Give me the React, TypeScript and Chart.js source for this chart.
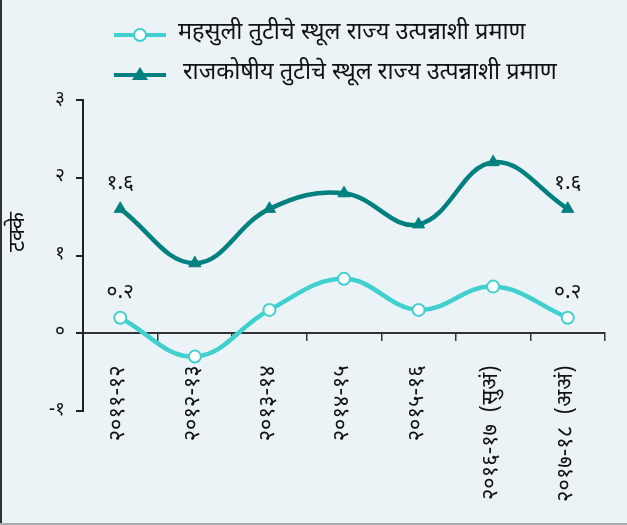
import React, { useEffect, useRef } from 'react';
import { Chart, registerables } from 'chart.js';

Chart.register(...registerables);

const categories = ['२०११-१२', '२०१२-१३', '२०१३-१४', '२०१४-१५', '२०१५-१६', '२०१६-१७  (सुअं)', '२०१७-१८  (अअं)'];
const revenueDeficit = [0.2, -0.3, 0.3, 0.7, 0.3, 0.6, 0.2];
const fiscalDeficit = [1.6, 0.9, 1.6, 1.8, 1.4, 2.2, 1.6];
const revenueLabels = ['०.२', '', '', '', '', '', '०.२'];
const fiscalLabels = ['१.६', '', '', '', '', '', '१.६'];
const yTickValues = [-1, 0, 1, 2, 3];
const yTickLabels = ['-१', '०', '१', '२', '३'];
const seriesNames = ['महसुली तुटीचे स्थूल राज्य उत्पन्नाशी प्रमाण', 'राजकोषीय तुटीचे स्थूल राज्य उत्पन्नाशी प्रमाण'];
const yTitle = 'टक्के';

const LIGHT = '#40D0D0';
const DARK = '#00807E';
const BG = '#EBF3F6';
const TEXT = '#111111';
const FONT = "'Noto Sans Devanagari', 'Lohit Devanagari', 'FreeSans', 'Noto Sans', sans-serif";

const overlayPlugin = {
  id: 'overlay',
  afterDatasetsDraw(chart: any) {
    const ctx = chart.ctx;
    ctx.save();
    ctx.fillStyle = TEXT;
    ctx.font = `21px ${FONT}`;
    ctx.textAlign = 'center';
    ctx.textBaseline = 'middle';
    const lists = [revenueLabels, fiscalLabels];
    chart.data.datasets.forEach((ds: any, di: number) => {
      const meta = chart.getDatasetMeta(di);
      meta.data.forEach((pt: any, i: number) => {
        const t = lists[di][i];
        if (t) ctx.fillText(t, pt.x, pt.y - 24);
      });
    });
    ctx.restore();
  },
  afterDraw(chart: any) {
    const ctx = chart.ctx;
    ctx.save();
    const rows = [
      { y: 35, color: LIGHT, style: 'circle', tx: 178 },
      { y: 75, color: DARK, style: 'triangle', tx: 183 },
    ];
    rows.forEach((r, i) => {
      ctx.strokeStyle = r.color;
      ctx.lineWidth = 4;
      ctx.beginPath();
      ctx.moveTo(114, r.y);
      ctx.lineTo(166, r.y);
      ctx.stroke();
      if (r.style === 'circle') {
        ctx.beginPath();
        ctx.arc(140, r.y, 6, 0, Math.PI * 2);
        ctx.fillStyle = '#ffffff';
        ctx.fill();
        ctx.lineWidth = 2;
        ctx.stroke();
      } else {
        ctx.beginPath();
        ctx.moveTo(140, r.y - 8);
        ctx.lineTo(148, r.y + 5);
        ctx.lineTo(132, r.y + 5);
        ctx.closePath();
        ctx.fillStyle = r.color;
        ctx.fill();
      }
      ctx.fillStyle = TEXT;
      ctx.font = `23.5px ${FONT}`;
      ctx.textAlign = 'left';
      ctx.textBaseline = 'middle';
      ctx.fillText(seriesNames[i], r.tx, r.y);
    });
    ctx.translate(20, 232);
    ctx.rotate(-Math.PI / 2);
    ctx.fillStyle = TEXT;
    ctx.font = `22px ${FONT}`;
    ctx.textAlign = 'center';
    ctx.textBaseline = 'middle';
    ctx.fillText(yTitle, 0, 0);
    ctx.restore();
  },
};

export default function App() {
  const ref = useRef<HTMLCanvasElement | null>(null);
  useEffect(() => {
    document.body.style.margin = '0';
    const canvas = ref.current;
    if (!canvas) return;
    const chart = new Chart(canvas, {
      type: 'line',
      data: {
        labels: categories,
        datasets: [
          {
            label: seriesNames[0],
            data: revenueDeficit,
            borderColor: LIGHT,
            backgroundColor: '#ffffff',
            borderWidth: 4.5,
            tension: 0.4,
            pointStyle: 'circle',
            pointRadius: 6,
            pointBorderWidth: 2,
            pointBorderColor: LIGHT,
            pointBackgroundColor: '#ffffff',
          },
          {
            label: seriesNames[1],
            data: fiscalDeficit,
            borderColor: DARK,
            backgroundColor: DARK,
            borderWidth: 4.5,
            tension: 0.4,
            pointStyle: 'triangle',
            pointRadius: 7,
            pointBorderWidth: 1,
            pointBorderColor: DARK,
            pointBackgroundColor: DARK,
          },
        ],
      },
      options: {
        animation: false,
        responsive: true,
        maintainAspectRatio: false,
        layout: { padding: { top: 100, right: 22, bottom: 114, left: 0 } },
        plugins: { legend: { display: false }, tooltip: { enabled: false } },
        scales: {
          x: {
            type: 'category',
            position: { y: 0 } as any,
            offset: true,
            grid: { display: true, drawOnChartArea: false, drawTicks: true, tickLength: 7, color: '#333', lineWidth: 1.5, offset: true },
            border: { display: true, color: '#333', width: 2 },
            ticks: { minRotation: 90, maxRotation: 90, autoSkip: false, padding: 25, color: TEXT, font: { family: FONT, size: 22 } },
            afterFit: (s: any) => { s.height = 0; },
          },
          y: {
            min: -1,
            max: 3,
            ticks: {
              stepSize: 1,
              padding: 11,
              color: TEXT,
              font: { family: FONT, size: 19 },
              callback: (v: any) => yTickLabels[yTickValues.indexOf(Number(v))],
            },
            grid: { drawOnChartArea: false, tickLength: 7, color: '#222', lineWidth: 2 },
            border: { display: true, color: '#222', width: 2 },
            afterFit: (s: any) => { s.width = 83; },
          },
        },
      },
      plugins: [overlayPlugin],
    });
    return () => chart.destroy();
  }, []);
  return (
    <div style={{ position: 'fixed', left: 0, top: 0, width: 627, height: 525, background: BG }}>
      <canvas ref={ref} />
      <div style={{ position: 'absolute', left: 0, top: 0, width: 2, height: 525, background: '#333' }} />
      <div style={{ position: 'absolute', left: 0, bottom: 0, width: 627, height: 2, background: '#aaa' }} />
    </div>
  );
}
